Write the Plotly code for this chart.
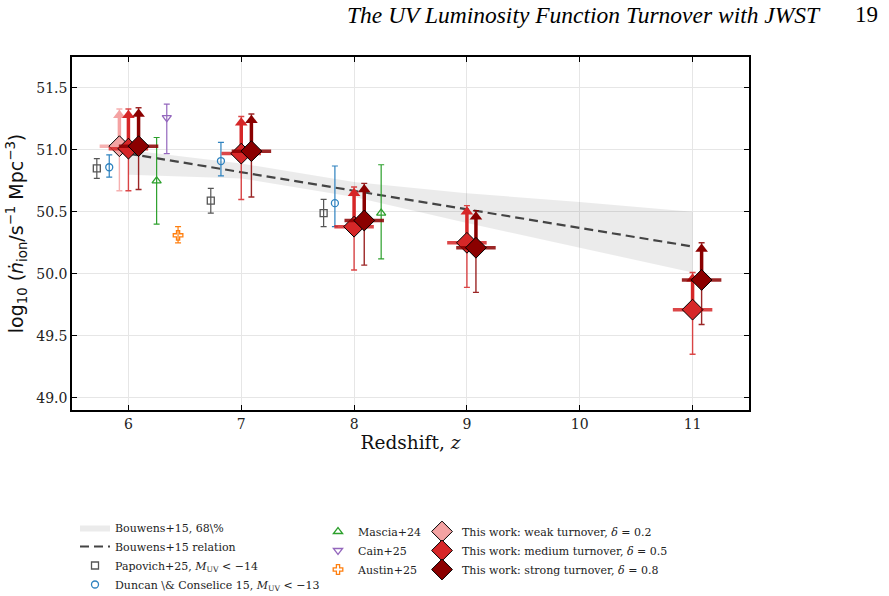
import plotly.graph_objects as go
import numpy as np

# ---------------- data ----------------
bw_z = [6, 7, 8, 9, 10, 11]
bw_top = [51.00, 50.89, 50.74, 50.65, 50.58, 50.50]
bw_bot = [50.80, 50.77, 50.62, 50.41, 50.21, 50.01]
bw_line_z = [6, 11]
bw_line_y = [50.97, 50.22]

pap_z = [5.72, 6.73, 7.73]
pap_y = [50.85, 50.59, 50.49]
pap_lo = [50.77, 50.49, 50.38]
pap_hi = [50.93, 50.69, 50.60]

dun_z = [5.83, 6.82, 7.83]
dun_y = [50.86, 50.91, 50.57]
dun_lo = [50.78, 50.79, 50.38]
dun_hi = [50.96, 51.06, 50.87]

mas_z = [6.25, 8.24]
mas_y = [50.75, 50.49]
mas_lo = [50.40, 50.12]
mas_hi = [51.10, 50.88]

cain_z = [6.34]
cain_y = [51.26]
cain_lo = [50.97]
cain_hi = [51.37]

aus_z = [6.44]
aus_y = [50.31]
aus_lo = [50.25]
aus_hi = [50.38]

weak_z = [5.92]
weak_y = [51.03]
weak_lo = [50.67]
weak_hi = [51.33]

med_z = [6.0, 7.0, 8.0, 9.0, 11.0]
med_y = [51.01, 50.97, 50.38, 50.25, 49.71]
med_lo = [50.67, 50.60, 50.03, 49.89, 49.35]
med_hi = [51.33, 51.27, 50.70, 50.55, 50.01]

str_z = [6.09, 7.09, 8.09, 9.08, 11.08]
str_y = [51.03, 50.99, 50.43, 50.21, 49.95]
str_lo = [50.68, 50.62, 50.07, 49.85, 49.59]
str_hi = [51.34, 51.29, 50.73, 50.51, 50.25]

z_halfwidth = 0.175

x_ticks = [6, 7, 8, 9, 10, 11]
y_ticks = [49.0, 49.5, 50.0, 50.5, 51.0, 51.5]

SERIF = "DejaVu Serif"
SANS = "DejaVu Sans"

# plot-area geometry (pixels) used to place legends / header in paper coords
L, R, T, B = 72, 749, 57, 410
def px(xp):
    return (xp - L) / (R - L)
def py(yp):
    return (B - yp) / (B - T)

fig = go.Figure()

# Bouwens band
fig.add_trace(go.Scatter(
    x=bw_z + bw_z[::-1], y=bw_top + bw_bot[::-1],
    fill="toself", fillcolor="rgba(0,0,0,0.08)", line=dict(width=0),
    mode="lines", name="Bouwens+15, 68\\%", legend="legend", hoverinfo="skip"))
fig.add_trace(go.Scatter(
    x=bw_line_z, y=bw_line_y, mode="lines",
    line=dict(color="#444444", width=2.2, dash="9px,5px"),
    name="Bouwens+15 relation", legend="legend"))


def lit(z, y, lo, hi, color, symbol, size, name, legend):
    y = np.array(y); lo = np.array(lo); hi = np.array(hi)
    fig.add_trace(go.Scatter(
        x=z, y=y, mode="markers", name=name, legend=legend,
        marker=dict(symbol=symbol, size=size, color=color,
                    line=dict(color=color, width=1.3)),
        error_y=dict(type="data", symmetric=False, array=hi - y, arrayminus=y - lo,
                     color=color, thickness=1.2, width=3)))


lit(pap_z, pap_y, pap_lo, pap_hi, "#555555", "square-open", 7,
    "Papovich+25, <i>M</i><sub>UV</sub> < −14", "legend")
lit(dun_z, dun_y, dun_lo, dun_hi, "#2e82bf", "circle-open", 7,
    "Duncan \\& Conselice 15, <i>M</i><sub>UV</sub> < −13", "legend")
lit(mas_z, mas_y, mas_lo, mas_hi, "#2ca02c", "triangle-up-open", 8, "Mascia+24", "legend2")
lit(cain_z, cain_y, cain_lo, cain_hi, "#9467bd", "triangle-down-open", 8, "Cain+25", "legend2")
lit(aus_z, aus_y, aus_lo, aus_hi, "#ff7f0e", "cross-open", 8, "Austin+25", "legend2")


def work(z, y, lo, hi, color, rgba, name):
    y = np.array(y); lo = np.array(lo); hi = np.array(hi)
    # arrow shafts
    sx, sy = [], []
    for zi, yi, hii in zip(z, y, hi):
        sx += [zi, zi, None]
        sy += [yi, hii - 0.05, None]
    fig.add_trace(go.Scatter(x=sx, y=sy, mode="lines", showlegend=False, hoverinfo="skip",
                             line=dict(color=color, width=3.5)))
    fig.add_trace(go.Scatter(x=z, y=hi - 0.05, mode="markers", showlegend=False, hoverinfo="skip",
                             marker=dict(symbol="triangle-up", size=11, color=color,
                                         line=dict(width=0))))
    fig.add_trace(go.Scatter(
        x=z, y=y, mode="markers", name=name, legend="legend3",
        marker=dict(symbol="diamond", size=16, color=color, line=dict(color="black", width=1)),
        error_y=dict(type="data", symmetric=False, array=hi - y, arrayminus=y - lo,
                     color=rgba, thickness=1.4, width=3),
        error_x=dict(type="constant", value=z_halfwidth, color=rgba, thickness=3.5, width=0)))


work(weak_z, weak_y, weak_lo, weak_hi, "#f4a3a3", "rgba(244,163,163,0.85)",
     "This work: weak turnover, <i>δ</i> = 0.2")
work(med_z, med_y, med_lo, med_hi, "#d62728", "rgba(214,39,40,0.85)",
     "This work: medium turnover, <i>δ</i> = 0.5")
work(str_z, str_y, str_lo, str_hi, "#8b0000", "rgba(139,0,0,0.85)",
     "This work: strong turnover, <i>δ</i> = 0.8")

axis_common = dict(showline=True, linecolor="black", linewidth=1.5, mirror="ticks",
                   ticks="inside", ticklen=5, tickwidth=1, tickcolor="black",
                   showgrid=True, gridcolor="#e6e6e6", gridwidth=1, zeroline=False,
                   tickfont=dict(family=SERIF, size=14, color="#222"))

fig.update_xaxes(range=[5.5, 11.5], tickvals=x_ticks, ticktext=[str(t) for t in x_ticks],
                 title=dict(text="Redshift, <i>z</i>", font=dict(family=SERIF, size=18.5, color="#111"),
                            standoff=6),
                 **axis_common)
fig.update_yaxes(range=[48.9, 51.75], tickvals=y_ticks, ticktext=[f"{t:.1f}" for t in y_ticks],
                 title=dict(text="log<sub>10</sub> (<i>ṅ</i><sub>ion</sub>/s<sup>−1</sup> Mpc<sup>−3</sup>)",
                            font=dict(family=SANS, size=19, color="#111"), standoff=8),
                 **axis_common)

leg_common = dict(xanchor="left", yanchor="top",
                  bgcolor="rgba(0,0,0,0)", font=dict(family=SERIF, size=11, color="#222"),
                  orientation="v")
fig.update_layout(
    width=889, height=596,
    margin=dict(l=L, r=889 - R, t=T, b=596 - B, autoexpand=False),
    plot_bgcolor="white", paper_bgcolor="white",
    legend=dict(x=px(75), y=py(513), **leg_common),
    legend2=dict(x=px(318), y=py(517), **leg_common),
    legend3=dict(x=px(422), y=py(517), **leg_common),
)

fig.add_annotation(xref="paper", yref="paper", x=px(823), y=py(15),
                   xanchor="right", yanchor="middle", showarrow=False,
                   text="<i>The UV Luminosity Function Turnover with JWST</i>",
                   font=dict(family="Liberation Serif", size=23.5, color="black"))
fig.add_annotation(xref="paper", yref="paper", x=px(880), y=py(15),
                   xanchor="right", yanchor="middle", showarrow=False,
                   text="19", font=dict(family="Liberation Serif", size=23, color="black"))

fig.write_html("out.html")
